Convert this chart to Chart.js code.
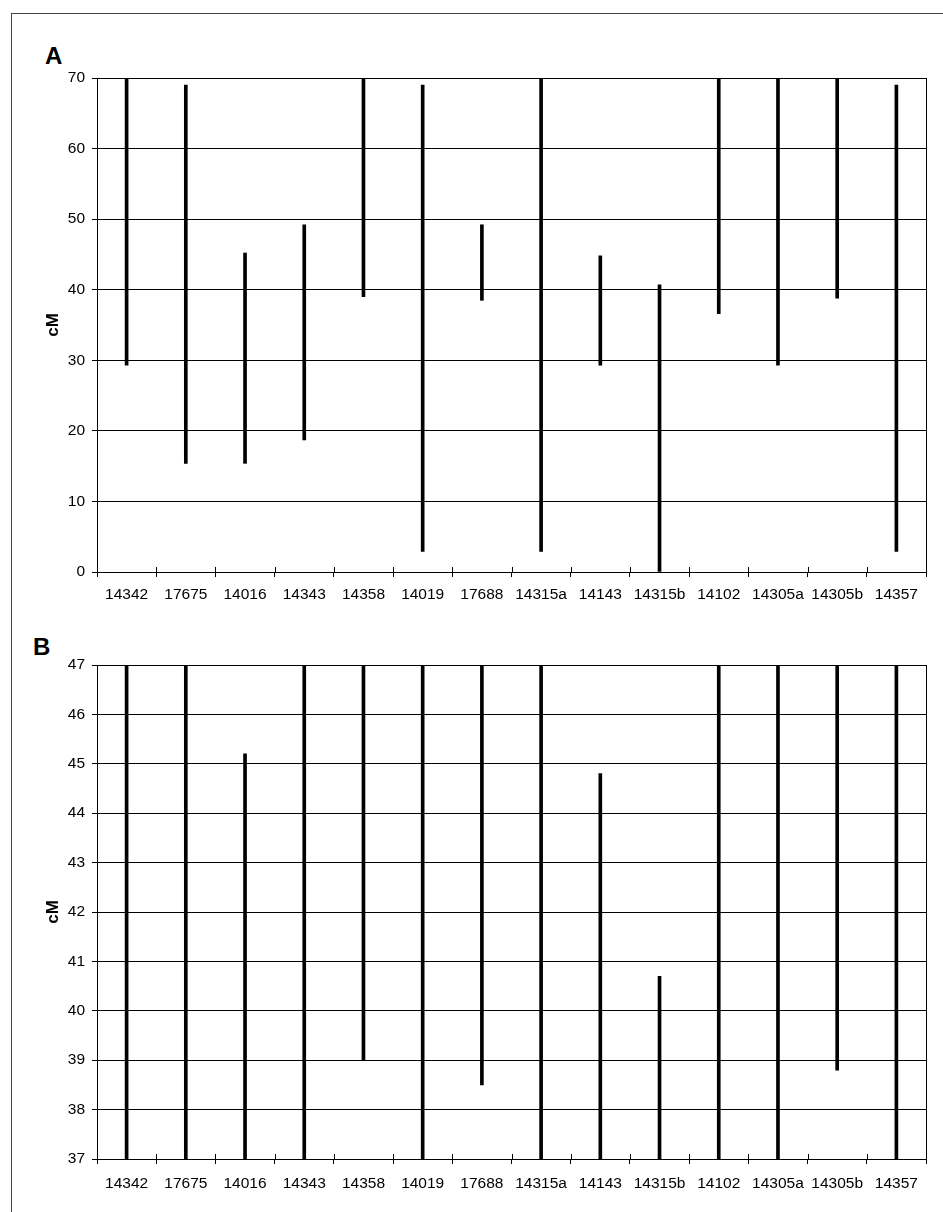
<!DOCTYPE html>
<html>
<head>
<meta charset="utf-8">
<script src="https://cdn.jsdelivr.net/npm/chart.js@4/dist/chart.umd.min.js"></script>
<style>
  html, body { margin: 0; padding: 0; background: #fff; width: 943px; height: 1212px; overflow: hidden; }
  #frame { position: absolute; left: 11px; top: 13px; width: 940px; height: 1210px; border-left: 1px solid #444; border-top: 1px solid #444; }
  .panel { position: absolute; font-family: "Liberation Sans", Arial, sans-serif; font-weight: bold; font-size: 24px; color: #000; line-height: 1; }
  canvas { position: absolute; left: 0; }
</style>
</head>
<body>
<div id="frame"></div>
<div class="panel" id="labA" style="left:45px; top:44px;">A</div>
<div class="panel" id="labB" style="left:33px; top:635px;">B</div>
<canvas id="chartA" width="943" height="610" style="top:0px;"></canvas>
<canvas id="chartB" width="943" height="602" style="top:610px;"></canvas>
<script>
// ---- data ----
const categories = ['14342','17675','14016','14343','14358','14019','17688','14315a','14143','14315b','14102','14305a','14305b','14357'];
const lowCM  = [29.3, 15.4, 15.4, 18.7, 39.0, 2.9, 38.5, 2.9, 29.3, 0.0, 36.6, 29.3, 38.8, 2.9];
const highCM = [70.0, 69.0, 45.2, 49.2, 70.0, 69.0, 49.2, 70.0, 44.8, 40.7, 70.0, 70.0, 70.0, 69.0];
const yTicksA = [0, 10, 20, 30, 40, 50, 60, 70];
const yTicksB = [37, 38, 39, 40, 41, 42, 43, 44, 45, 46, 47];
const axisTitle = 'cM';

const FONT = '"Liberation Sans", Arial, sans-serif';

const frameAndTicks = {
  id: 'frameAndTicks',
  afterDraw(chart) {
    const {ctx, chartArea, scales} = chart;
    const xs = scales.x;
    ctx.save();
    ctx.strokeStyle = '#000';
    ctx.lineWidth = 1;
    ctx.strokeRect(Math.round(chartArea.left) + 0.5, Math.round(chartArea.top) + 0.5,
                   Math.round(chartArea.right - chartArea.left), Math.round(chartArea.bottom - chartArea.top));
    ctx.beginPath();
    for (let i = 0; i <= categories.length; i++) {
      const x = Math.round(xs.getPixelForValue(i - 0.5)) + 0.5;
      ctx.moveTo(x, chartArea.bottom - 5);
      ctx.lineTo(x, chartArea.bottom);
    }
    ctx.stroke();
    ctx.restore();
  }
};

function makeChart(id, ticks, padTop, xAxisHeight, xLabelPad) {
  const yMin = ticks[0], yMax = ticks[ticks.length - 1];
  const data = categories.map((c, i) => [lowCM[i], highCM[i]]);
  return new Chart(document.getElementById(id), {
    type: 'bar',
    data: {
      labels: categories,
      datasets: [{
        data: data,
        backgroundColor: '#000',
        borderWidth: 0,
        barThickness: 3
      }]
    },
    options: {
      responsive: false,
      animation: false,
      devicePixelRatio: 1,
      layout: { padding: { top: padTop, right: 17, left: 0, bottom: 0 } },
      plugins: { legend: { display: false }, tooltip: { enabled: false } },
      scales: {
        x: {
          type: 'category',
          offset: true,
          grid: { display: true, drawOnChartArea: false, drawTicks: true, tickLength: 5, color: '#000', offset: true },
          border: { display: true, color: '#000', width: 1 },
          ticks: { color: '#000', font: { family: FONT, size: 15.5 }, padding: xLabelPad, maxRotation: 0, autoSkip: false },
          afterFit(scale) { scale.height = xAxisHeight; }
        },
        y: {
          min: yMin, max: yMax,
          afterBuildTicks(scale) { scale.ticks = ticks.map(v => ({ value: v })); },
          grid: { display: true, color: '#000', lineWidth: 1, drawTicks: true, tickLength: 5 },
          border: { display: true, color: '#000', width: 1 },
          ticks: { color: '#000', font: { family: FONT, size: 15.5 }, padding: 7 },
          title: { display: true, text: axisTitle, color: '#000', font: { family: FONT, size: 17, weight: 'bold' }, padding: { top: 43, bottom: 0 } },
          afterFit(scale) { scale.width = 97; }
        }
      }
    },
    plugins: [frameAndTicks]
  });
}

makeChart('chartA', yTicksA, 78, 38, 8);
makeChart('chartB', yTicksB, 55, 53, 10);
</script>
</body>
</html>
